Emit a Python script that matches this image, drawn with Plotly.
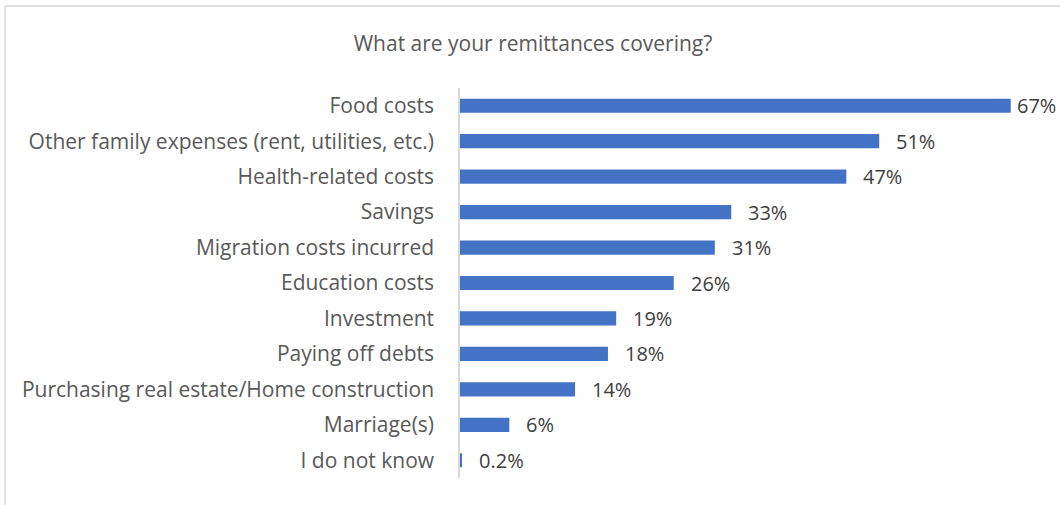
import plotly.graph_objects as go

categories = [
    "Food costs",
    "Other family expenses (rent, utilities, etc.)",
    "Health-related costs",
    "Savings",
    "Migration costs incurred",
    "Education costs",
    "Investment",
    "Paying off debts",
    "Purchasing real estate/Home construction",
    "Marriage(s)",
    "I do not know",
]
values = [67, 51, 47, 33, 31, 26, 19, 18, 14, 6, 0.2]

W, H = 1060, 505
ML, MR, MT, MB = 460, 25, 88, 27
FONT = "Open Sans"
PX_PER_UNIT = 8.22

fig = go.Figure(
    go.Bar(
        x=values,
        y=categories,
        orientation="h",
        marker=dict(color="#4472C4", line=dict(width=0)),
        hoverinfo="x+y",
        width=0.4,
    )
)

# value labels to the right of each bar; pulled in if it would run off the page
label_w = 42
for cat, v in zip(categories, values):
    end_px = ML + v * PX_PER_UNIT
    shift = min(15, W - 3 - label_w - end_px)
    fig.add_annotation(
        x=v, y=cat, xref="x", yref="y",
        text=f"{v:g}%",
        showarrow=False,
        xanchor="left",
        yanchor="middle",
        xshift=shift,
        font=dict(family=FONT, size=20, color="#404040"),
    )

# outer chart frame (top and left edges visible)
pw = W - ML - MR
ph = H - MT - MB
def px_x(p):
    return (p - ML) / pw
def px_y(p):
    return 1 - (p - MT) / ph

fig.add_shape(type="line", xref="paper", yref="paper",
              x0=px_x(5), x1=px_x(1070), y0=px_y(6), y1=px_y(6),
              line=dict(color="#d9d9d9", width=1.5))
fig.add_shape(type="line", xref="paper", yref="paper",
              x0=px_x(5), x1=px_x(5), y0=px_y(6), y1=px_y(515),
              line=dict(color="#d9d9d9", width=1.5))

fig.update_layout(
    width=W,
    height=H,
    margin=dict(l=ML, r=MR, t=MT, b=MB),
    paper_bgcolor="white",
    plot_bgcolor="white",
    showlegend=False,
    title=dict(
        text="What are your remittances covering?",
        x=533 / W,
        xanchor="center",
        xref="container",
        y=1 - 44 / H,
        yanchor="middle",
        yref="container",
        font=dict(family=FONT, size=21, color="#595959"),
    ),
    xaxis=dict(
        range=[0, pw / PX_PER_UNIT],
        showgrid=False,
        showticklabels=False,
        zeroline=False,
        showline=False,
        fixedrange=True,
    ),
    yaxis=dict(
        autorange="reversed",
        showgrid=False,
        showline=True,
        linecolor="#d9d9d9",
        linewidth=1.5,
        ticks="",
        ticklabelstandoff=20,
        tickfont=dict(family=FONT, size=21, color="#595959"),
    ),
)

fig.write_html("out.html")
